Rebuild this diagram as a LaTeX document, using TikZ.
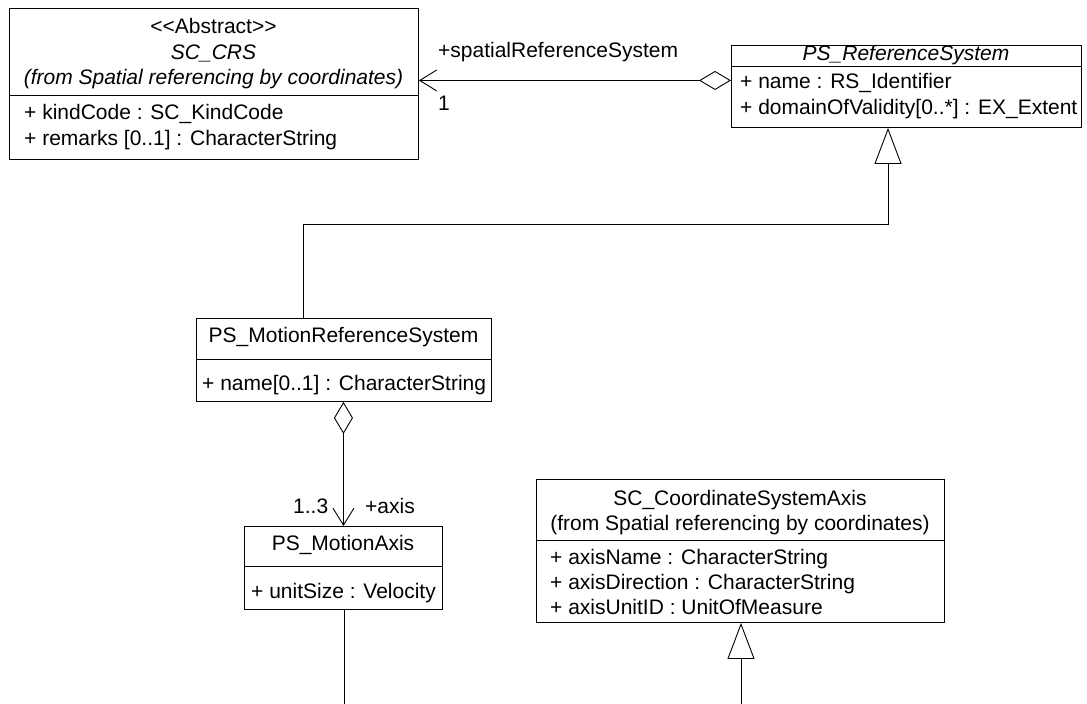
\documentclass[tikz,border=0pt]{standalone}
\usepackage{fontspec}
\setmainfont{Liberation Sans}[Ligatures=TeXOff]
\usetikzlibrary{arrows.meta}
\begin{document}
\begin{tikzpicture}[x=1pt,y=-1pt,
  cls/.style={draw, line width=0.9pt, inner sep=0, anchor=north west},
  sep/.style={line width=0.9pt},
  txt/.style={inner sep=0, font=\fontsize{21}{25}\selectfont},
  ttl/.style={txt, anchor=base},
  att/.style={txt, anchor=base west},
  link/.style={line width=0.9pt},
  agg/.style={link, {Diamond[open,length=32pt,width=19pt]}-{Straight Barb[length=17pt,width=21pt]}},
  gen/.style={link, -{Triangle[open,length=36pt,width=27pt]}},
]
\useasboundingbox (0,0) rectangle (1087,704);

% class boxes
\node[cls, minimum width=409pt, minimum height=151pt] (crs) at (9,8) {};
\node[cls, minimum width=350pt, minimum height=82pt] (rs) at (731,45) {};
\node[cls, minimum width=295pt, minimum height=83pt] (mrs) at (196,318) {};
\node[cls, minimum width=198pt, minimum height=83pt] (ma) at (244,526) {};
\node[cls, minimum width=408pt, minimum height=143pt] (csa) at (536,479) {};

% compartment separators
\draw[sep] (9,95) -- (418,95);
\draw[sep] (731,66) -- (1081,66);
\draw[sep] (196,359) -- (491,359);
\draw[sep] (244,566) -- (442,566);
\draw[sep] (536,540) -- (944,540);

% SC_CRS
\node[ttl] (crsA) at (213.5,33) {<<Abstract>>};
\node[ttl] (crsN) at (213.5,59) {\itshape SC\_CRS};
\node[ttl] (crsF) at (213.5,84) {\itshape (from Spatial referencing by coordinates)};
\node[att] (crs1) at (24,119) {+ kindCode : SC\_KindCode};
\node[att] (crs2) at (24,145) {+ remarks [0..1] : CharacterString};

% PS_ReferenceSystem
\node[ttl] (rsN) at (906,60) {\itshape PS\_ReferenceSystem};
\node[att] (rs1) at (740,88) {+ name : RS\_Identifier};
\node[att] (rs2) at (740,114) {+ domainOfValidity[0..*] : EX\_Extent};

% PS_MotionReferenceSystem
\node[ttl] (mrsN) at (343.5,342) {PS\_MotionReferenceSystem};
\node[att] (mrs1) at (202,390) {+ name[0..1] : CharacterString};

% PS_MotionAxis
\node[ttl] (maN) at (343,550) {PS\_MotionAxis};
\node[att] (ma1) at (251,598) {+ unitSize : Velocity};

% SC_CoordinateSystemAxis
\node[ttl] (csaN) at (740,505) {SC\_CoordinateSystemAxis};
\node[ttl] (csaF) at (740,530.5) {(from Spatial referencing by coordinates)};
\node[att] (csa1) at (550,564) {+ axisName : CharacterString};
\node[att] (csa2) at (550,589) {+ axisDirection : CharacterString};
\node[att] (csa3) at (550,614) {+ axisUnitID : UnitOfMeasure};

% associations
\draw[agg] ([yshift=6pt]rs.west) -- ([yshift=6pt]rs.west -| crs.east);
\node[att] (lSpat) at (438,57) {+spatialReferenceSystem};
\node[att] (lOne) at (438,110) {1};

\draw[agg] ([xshift=-0.5pt]mrs.south) -- ([xshift=-0.5pt]mrs.south |- ma.north);
\node[att] (lMult) at (293,513) {1..3};
\node[att] (lAxis) at (365,513) {+axis};

% generalizations
\coordinate (g1) at (303,224);
\coordinate (g2) at (888,224);
\draw[gen] (mrs.north -| g1) -- (g1) -- (g2) -- (rs.south -| g2);

\coordinate (csaEnd) at (741,704);
\draw[gen] (csaEnd) -- (csa.south -| csaEnd);

% continuation below the axis class
\coordinate (maEnd) at (344,704);
\draw[link] (ma.south -| maEnd) -- (maEnd);
\end{tikzpicture}
\end{document}
